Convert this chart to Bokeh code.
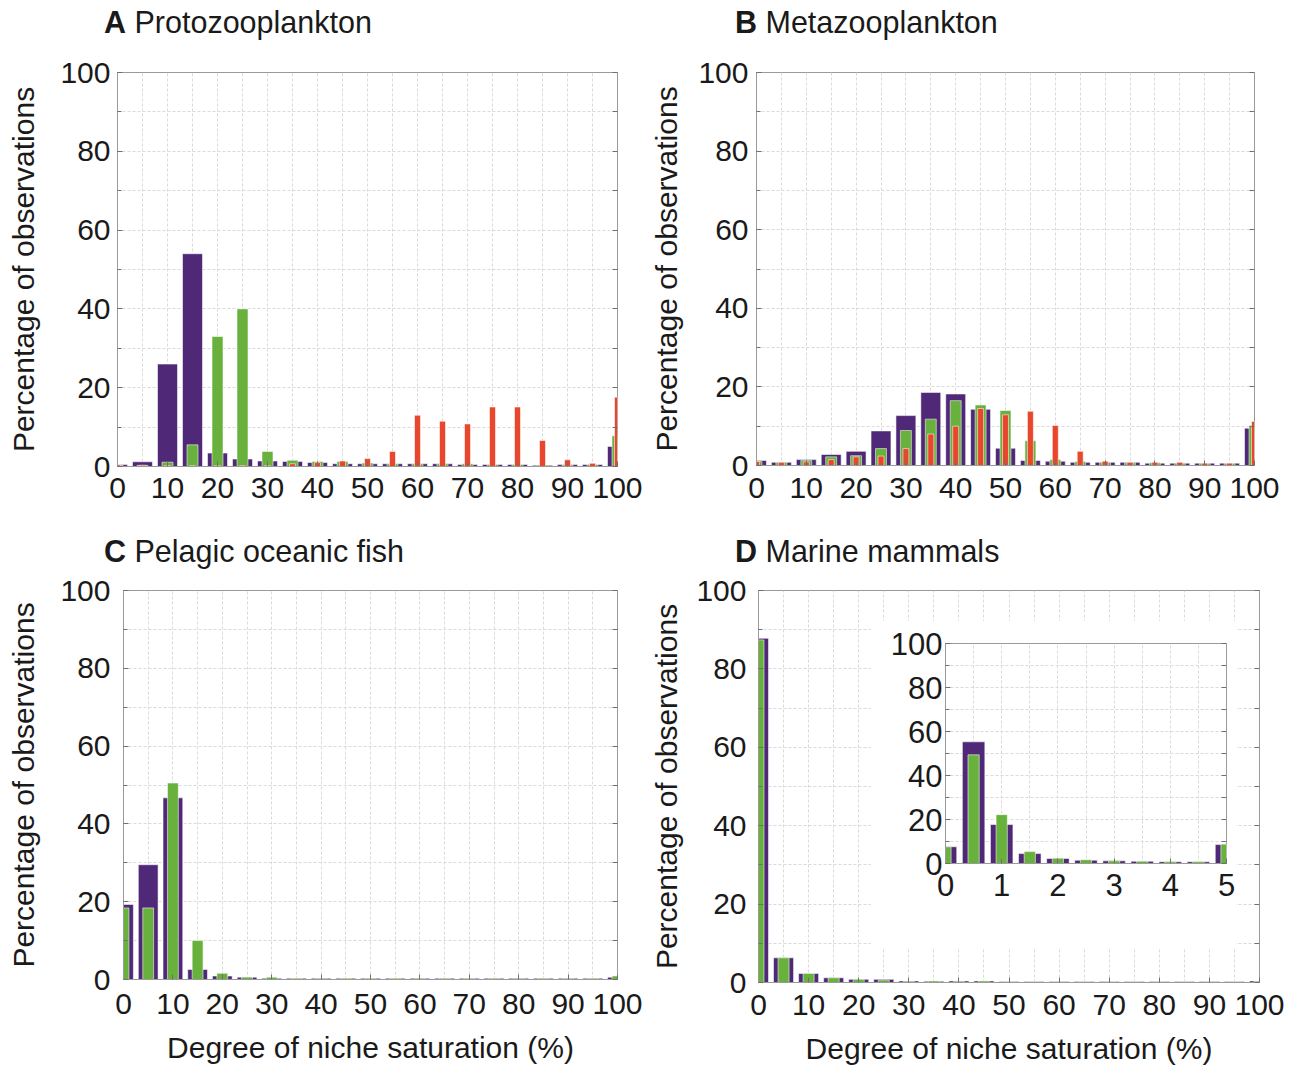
from bokeh.plotting import figure
from bokeh.models import Range1d, FixedTicker, LinearAxis, Div
from bokeh.layouts import column, row
from bokeh.embed import file_html
from bokeh.resources import INLINE

# ---------------- data ----------------
bins = list(range(0, 101, 5))
x_ticks = list(range(0, 101, 10))
y_ticks = list(range(0, 101, 20))
y_minor = list(range(0, 101, 10))

protozoo_purple = [0.5, 1.2, 26.0, 54.0, 3.4, 1.9, 1.4, 1.3, 1.0, 0.7, 0.7, 0.7, 0.7, 0.7, 0.5, 0.5, 0.5, 0.3, 0.5, 0.5, 5.1]
protozoo_green = [0.3, 0.3, 1.1, 5.5, 33.0, 40.0, 3.8, 1.6, 1.3, 1.3, 0.9, 0.7, 0.7, 0.7, 0.7, 0.5, 0.5, 0.4, 0.4, 0.5, 7.8]
protozoo_red = [0.4, 0.3, 0.2, 0.2, 0.2, 0.2, 0.2, 0.7, 1.0, 1.4, 2.0, 3.8, 13.0, 11.5, 10.8, 15.1, 15.1, 6.6, 1.7, 0.8, 17.6]

metazoo_purple = [1.3, 0.8, 1.5, 2.8, 3.6, 8.8, 12.7, 18.6, 18.2, 14.3, 4.4, 1.3, 1.1, 0.8, 0.8, 0.8, 0.6, 0.6, 0.6, 0.6, 9.5]
metazoo_green = [1.0, 0.8, 1.3, 2.2, 2.5, 4.3, 8.9, 11.8, 16.5, 15.4, 14.0, 6.3, 1.5, 1.0, 0.8, 0.7, 0.7, 0.6, 0.5, 0.5, 10.2]
metazoo_red = [1.0, 0.8, 0.9, 1.5, 2.2, 2.4, 4.3, 8.0, 10.0, 14.5, 12.9, 13.8, 10.2, 3.6, 1.1, 0.8, 0.8, 0.8, 0.6, 0.6, 11.2]

fish_purple = [19.3, 29.5, 46.7, 2.6, 0.9, 0.6, 0.3, 0.3, 0.3, 0.3, 0.3, 0.3, 0.3, 0.3, 0.3, 0.3, 0.3, 0.3, 0.3, 0.3, 0.6]
fish_green = [18.4, 18.4, 50.5, 10.0, 1.6, 0.6, 0.6, 0.3, 0.3, 0.3, 0.3, 0.3, 0.3, 0.3, 0.3, 0.3, 0.3, 0.3, 0.3, 0.3, 0.9]

mammal_purple = [87.8, 6.3, 2.3, 1.2, 0.8, 0.8, 0.4, 0.3, 0.4, 0.4, 0.25, 0.25, 0.25, 0.25, 0.25, 0.25, 0.25, 0.25, 0.25, 0.25, 0.4]
mammal_green = [87.4, 6.3, 2.3, 1.2, 0.8, 0.6, 0.3, 0.4, 0.3, 0.4, 0.25, 0.25, 0.25, 0.25, 0.25, 0.25, 0.25, 0.25, 0.25, 0.25, 0.3]

inset_bins = [0, 0.5, 1, 1.5, 2, 2.5, 3, 3.5, 4, 4.5, 5]
inset_x_ticks = [0, 1, 2, 3, 4, 5]
inset_purple = [7.6, 55.3, 17.7, 4.5, 2.3, 1.5, 1.2, 1.0, 0.8, 0.8, 8.6]
inset_green = [7.6, 49.4, 22.2, 5.4, 2.4, 1.7, 1.2, 1.0, 0.8, 0.8, 8.8]

titles = [("A", "Protozooplankton"), ("B", "Metazooplankton"),
          ("C", "Pelagic oceanic fish"), ("D", "Marine mammals")]
y_label = "Percentage of observations"
x_label = "Degree of niche saturation (%)"

# ---------------- style ----------------
PURPLE = "#4F2877"
GREEN = "#67B13C"
RED = "#E8472D"
FRAME = "#9A9A9A"
GRID = "#DADADA"
TEXT = "#1A1A1A"
FONT = "Liberation Sans"


def make_panel(fw, fh, bl, br, bt, bb, xr, xt, xgrid_t, ystand, xstand,
               ylab_standoff=17, xlab_standoff=None, tick_size="30px", ylab=True):
    p = figure(frame_width=fw, frame_height=fh,
               min_border_left=bl, min_border_right=br,
               min_border_top=bt, min_border_bottom=bb,
               x_range=Range1d(*xr), y_range=Range1d(0, 100),
               output_backend="svg", toolbar_location=None,
               background_fill_color="white", border_fill_color="white",
               outline_line_color=FRAME, outline_line_width=1)
    xa = p.xaxis[0]
    xa.ticker = FixedTicker(ticks=xt, minor_ticks=[])
    ya = p.yaxis[0]
    ya.ticker = FixedTicker(ticks=y_ticks, minor_ticks=y_minor)
    for a in (xa, ya):
        a.axis_line_color = FRAME
        a.major_tick_in = 5
        a.major_tick_out = 0
        a.minor_tick_in = 4
        a.minor_tick_out = 0
        a.major_tick_line_color = "#707070"
        a.minor_tick_line_color = "#707070"
        a.major_label_text_font = FONT
        a.major_label_text_font_size = tick_size
        a.major_label_text_color = TEXT
        a.axis_label_text_font = FONT
        a.axis_label_text_font_size = "30px"
        a.axis_label_text_font_style = "normal"
        a.axis_label_text_color = TEXT
    ya.major_label_standoff = ystand
    xa.major_label_standoff = xstand
    if ylab:
        ya.axis_label = y_label
        ya.axis_label_standoff = ylab_standoff
    if xlab_standoff is not None:
        xa.axis_label = x_label
        xa.axis_label_standoff = xlab_standoff
    # tick marks on the right edge (minor ticks only: no label texts)
    ra = LinearAxis(ticker=FixedTicker(ticks=[], minor_ticks=y_minor),
                    axis_line_color=None, major_tick_in=0, major_tick_out=0,
                    major_label_standoff=0,
                    minor_tick_in=5, minor_tick_out=0,
                    minor_tick_line_color="#707070")
    p.add_layout(ra, "right")
    p.xgrid.ticker = FixedTicker(ticks=xgrid_t)
    p.ygrid.ticker = FixedTicker(ticks=y_minor)
    for g in (p.xgrid[0], p.ygrid[0]):
        g.grid_line_color = GRID
        g.grid_line_dash = "3 2"
        g.grid_line_width = 1
    return p


def bars(p, x, vals, width, color):
    p.vbar(x=x, top=vals, bottom=0, width=width, fill_color=color,
           line_color="white", line_alpha=0.55, line_width=1)


def title_div(letter, name, left, top):
    html = ('<div style="font-family:\'Liberation Sans\',Arial,sans-serif;font-size:30.5px;'
            'line-height:30px;color:%s;white-space:nowrap;margin:0;padding:0">'
            '<b>%s</b> %s</div>' % (TEXT, letter, name))
    return Div(text=html, width=440, height=36,
               styles={"position": "absolute", "left": "%dpx" % left,
                       "top": "%dpx" % top, "margin": "0", "padding": "0"})


# Panel A
pA = make_panel(500, 394, 117, 30, 71, 55, (0, 100), x_ticks, bins, 7, 11)
bars(pA, bins, protozoo_purple, 4, PURPLE)
bars(pA, bins, protozoo_green, 2.2, GREEN)
bars(pA, bins, protozoo_red, 1.2, RED)

# Panel B
pB = make_panel(498, 393, 108, 44, 72, 55, (0, 100), x_ticks, bins, 8, 12, ylab_standoff=12)
bars(pB, bins, metazoo_purple, 4, PURPLE)
bars(pB, bins, metazoo_green, 2.2, GREEN)
bars(pB, bins, metazoo_red, 1.2, RED)

# Panel C
pC = make_panel(494, 389, 123, 30, 70, 88, (0, 100), x_ticks, bins, 13, 14,
                ylab_standoff=17, xlab_standoff=14)
bars(pC, bins, fish_purple, 4, PURPLE)
bars(pC, bins, fish_green, 2.2, GREEN)

# Panel D
pD = make_panel(501, 392, 110, 39, 69, 86, (0, 100), x_ticks, bins, 12, 12,
                ylab_standoff=10, xlab_standoff=14)
bars(pD, bins, mammal_purple, 4, PURPLE)
bars(pD, bins, mammal_green, 2.2, GREEN)

# Inset of panel D
pI = make_panel(281, 220, 75, 10, 23, 85, (0, 5), inset_x_ticks, inset_bins, 3, 10,
                tick_size="31px", ylab=False)
bars(pI, inset_bins, inset_purple, 0.4, PURPLE)
bars(pI, inset_bins, inset_green, 0.2, GREEN)
pI.styles = {"position": "absolute", "left": "870px", "top": "620px"}

divs = [title_div(*titles[0], 104, 7), title_div(*titles[1], 735, 7),
        title_div(*titles[2], 104, 536), title_div(*titles[3], 735, 536)]

root = column(row(pA, pB), row(pC, pD), pI, *divs)
open("out.html", "w").write(file_html(root, INLINE))
